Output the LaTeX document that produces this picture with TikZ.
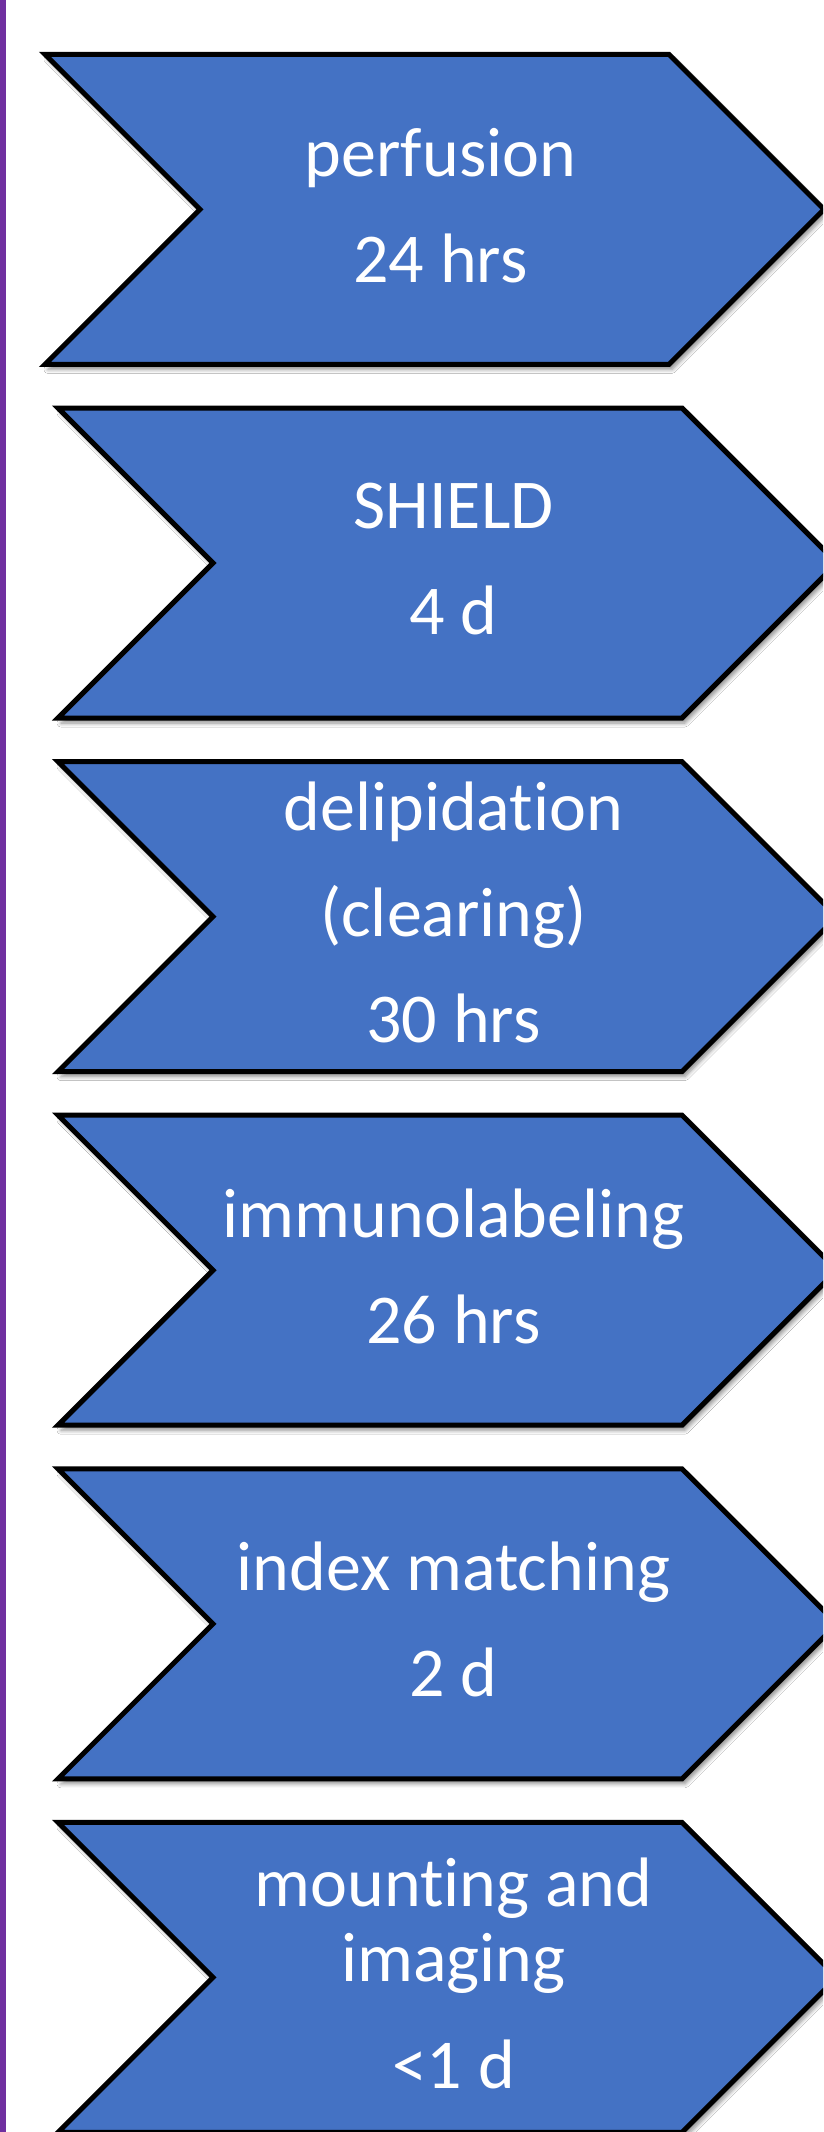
\documentclass[tikz,border=0pt]{standalone}
\usepackage{fontspec}
\setmainfont[Ligatures=NoCommon]{Carlito}
\usetikzlibrary{shadows.blur}
\definecolor{stepblue}{HTML}{4472C4}
\definecolor{barpurple}{HTML}{7030A0}
\tikzset{
	chevron/.style={fill=stepblue, draw=black, line width=5pt, line join=miter,
		blur shadow={shadow xshift=3pt, shadow yshift=-5pt, shadow blur radius=4pt,
			shadow blur steps=6, shadow opacity=45}},
	steptext/.style={text=white, align=center, inner sep=0pt,
		font=\fontsize{70}{75}\selectfont}
}
\begin{document}
\begin{tikzpicture}[x=1pt, y=-1pt, line cap=round]
	\clip (0,0) rectangle (823,2132);
	\fill[white] (0,0) rectangle (823,2132);
	\fill[barpurple] (0,0) rectangle (6,2132);
	\foreach \n/\l/\txt in {
		1/45/{perfusion\\[31pt]24 hrs},
		2/58/{SHIELD\\[31pt]4 d},
		3/58/{delipidation\\[31pt](clearing)\\[31pt]30 hrs},
		4/58/{immunolabeling\\[31pt]26 hrs},
		5/58/{index matching\\[31pt]2 d},
		6/58/{mounting and\\imaging\\[32pt]<1 d}}
	{
		\pgfmathsetmacro{\t}{54.4+353.6*(\n-1)}
		\draw[chevron] (\l,\t) -- ++(624,0) -- ++(155,155) -- ++(-155,155)
			-- ++(-624,0) -- ++(155,-155) -- cycle;
		\node[steptext] (step\n) at (\l+395.5,\t+151) {\txt};
	}
\end{tikzpicture}
\end{document}
